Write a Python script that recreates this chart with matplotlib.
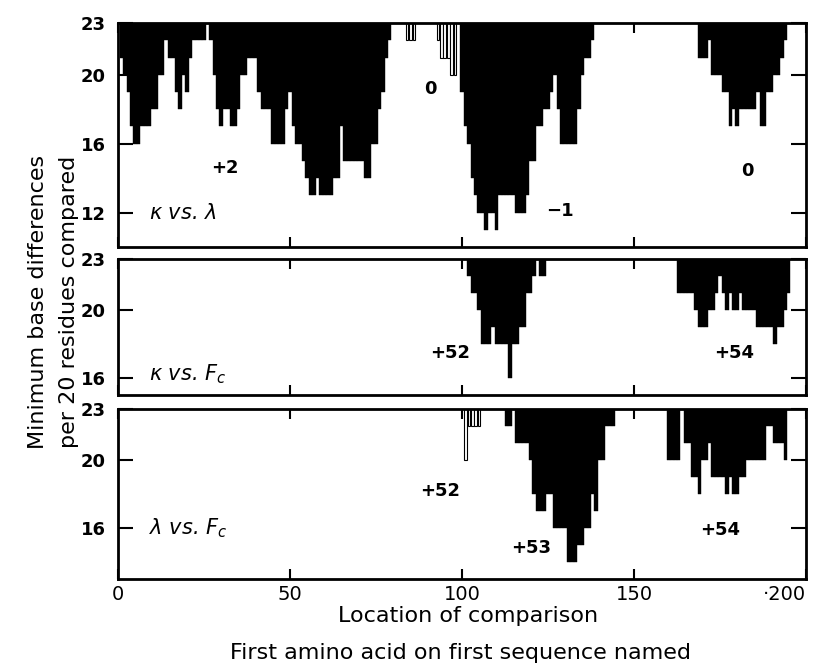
import numpy as np
import matplotlib.pyplot as plt

# minimum base differences per 20 residues, window start positions 1..199
# 23 means nothing drawn (top of scale)
pos = np.arange(1, 200)

kl_vals = [
    21, 20, 19, 17, 16, 16, 17, 17, 17, 18, 18, 20, 20, 22, 21, 21, 19, 18, 20, 19,
    21, 22, 22, 22, 22, 23, 22, 20, 18, 17, 18, 18, 17, 17, 18, 20, 20, 21, 21, 21,
    19, 18, 18, 18, 16, 16, 16, 16, 18, 19, 17, 16, 16, 15, 14, 13, 13, 14, 13, 13,
    13, 13, 14, 14, 17, 15, 15, 15, 15, 15, 15, 14, 14, 16, 16, 18, 19, 21, 22, 23,
    23, 23, 23, 23, 23, 23, 23, 23, 23, 23, 23, 23, 23, 23, 23, 23, 23, 23, 23, 19,
    17, 16, 14, 13, 12, 12, 11, 12, 12, 11, 13, 13, 13, 13, 13, 12, 12, 12, 13, 15,
    15, 17, 17, 18, 18, 19, 20, 18, 16, 16, 16, 16, 16, 18, 20, 21, 21, 22, 23, 23,
    23, 23, 23, 23, 23, 23, 23, 23, 23, 23, 23, 23, 23, 23, 23, 23, 23, 23, 23, 23,
    23, 23, 23, 23, 23, 23, 23, 23, 21, 21, 21, 22, 20, 20, 20, 19, 19, 17, 18, 17,
    18, 18, 18, 18, 18, 19, 17, 17, 19, 19, 20, 20, 21, 22, 23, 23, 23, 23, 23,
]
kl_open_pos = [84, 85, 86, 93, 94, 95, 96, 97, 98]
kl_open_val = [22, 22, 22, 22, 21, 21, 21, 20, 20]

kf_vals = [23] * 100 + [
    23, 22, 21, 21, 20, 18, 18, 18, 19, 18, 18, 18, 18, 16, 18, 18, 19, 19, 21, 21,
    22, 23, 22, 22, 23, 23, 23, 23, 23, 23, 23, 23, 23, 23, 23, 23, 23, 23, 23, 23,
    23, 23, 23, 23, 23, 23, 23, 23, 23, 23, 23, 23, 23, 23, 23, 23, 23, 23, 23, 23,
    23, 23, 21, 21, 21, 21, 21, 20, 19, 19, 19, 20, 20, 21, 22, 21, 20, 21, 20, 20,
    21, 20, 20, 20, 20, 19, 19, 19, 19, 19, 18, 19, 19, 20, 21, 23, 23, 23, 23,
]

lf_vals = [23] * 100 + [
    23, 23, 23, 23, 23, 23, 23, 23, 23, 23, 23, 23, 22, 22, 23, 21, 21, 21, 21, 20,
    18, 17, 17, 17, 18, 18, 16, 16, 16, 16, 14, 14, 14, 15, 15, 16, 16, 18, 17, 20,
    20, 22, 22, 22, 23, 23, 23, 23, 23, 23, 23, 23, 23, 23, 23, 23, 23, 23, 23, 20,
    20, 20, 20, 23, 21, 21, 19, 19, 18, 20, 20, 21, 19, 19, 19, 19, 18, 19, 18, 18,
    19, 19, 20, 20, 20, 20, 20, 20, 22, 22, 21, 21, 21, 20, 23, 23, 23, 23, 23,
]
lf_open_pos = [101, 102, 103, 104, 105]
lf_open_val = [20, 22, 22, 22, 22]

x_ticks = [0, 50, 100, 150, 200]
x_ticklabels = ['0', '50', '100', '150', '\u00b7200']

panels = [
    dict(vals=kl_vals, opos=kl_open_pos, oval=kl_open_val, ymin=10, yticks=[12, 16, 20, 23],
         name=r"$\kappa$ vs. $\lambda$", name_y=12,
         notes=[("+2", 31, 14.6), ("0", 90.7, 19.2), ("\u22121", 128.5, 12.1), ("0", 183, 14.4)],
         rect=[0.1446, 0.6313, 0.8431, 0.3343]),
    dict(vals=kf_vals, opos=[], oval=[], ymin=15, yticks=[16, 20, 23],
         name=r"$\kappa$ vs. $F_c$", name_y=16.2,
         notes=[("+52", 96.5, 17.5), ("+54", 179, 17.5)],
         rect=[0.1446, 0.4104, 0.8431, 0.2030]),
    dict(vals=lf_vals, opos=lf_open_pos, oval=lf_open_val, ymin=13, yticks=[16, 20, 23],
         name=r"$\lambda$ vs. $F_c$", name_y=16,
         notes=[("+52", 93.6, 18.2), ("+53", 120, 14.8), ("+54", 175, 15.9)],
         rect=[0.1446, 0.1358, 0.8431, 0.2537]),
]

fig = plt.figure(figsize=(8.16, 6.70), dpi=100)

for i, p in enumerate(panels):
    ax = fig.add_axes(p['rect'])
    v = np.array(p['vals'])
    m = v < 23
    ax.bar(pos[m], 23 - v[m], bottom=v[m], width=1.0, color='black',
           edgecolor='black', linewidth=0.3)
    if p['opos']:
        ov = np.array(p['oval'])
        ax.bar(p['opos'], 23 - ov, bottom=ov, width=0.75, facecolor='white',
               edgecolor='black', linewidth=0.8)
    ax.set_xlim(0, 200)
    ax.set_ylim(p['ymin'], 23)
    ax.set_yticks(p['yticks'])
    ax.set_yticklabels([str(t) for t in p['yticks']], fontsize=13, fontweight='bold')
    ax.set_xticks(x_ticks)
    ax.tick_params(axis='y', direction='in', length=11, width=1.5, right=True, pad=9)
    ax.tick_params(axis='x', direction='in', length=7, width=1.5, top=True, pad=4)
    if i == 2:
        labs = ax.set_xticklabels(x_ticklabels, fontsize=14)
        labs[-1].set_horizontalalignment('right')
        labs[-1].set_x(200)
    else:
        ax.set_xticklabels([])
    for s in ax.spines.values():
        s.set_linewidth(2)
    ax.text(9, p['name_y'], p['name'], fontsize=15, style='italic', va='center')
    for txt, x, y in p['notes']:
        ax.text(x, y, txt, fontsize=13, fontweight='bold', ha='center', va='center')

fig.text(0.574, 0.080, "Location of comparison", fontsize=16, ha='center', va='center')
fig.text(0.564, 0.026, "First amino acid on first sequence named", fontsize=16,
         ha='center', va='center')
fig.text(0.046, 0.55, "Minimum base differences", fontsize=16, rotation=90,
         ha='center', va='center')
fig.text(0.084, 0.55, "per 20 residues compared", fontsize=16, rotation=90,
         ha='center', va='center')

fig.savefig('out.png', dpi=100)
